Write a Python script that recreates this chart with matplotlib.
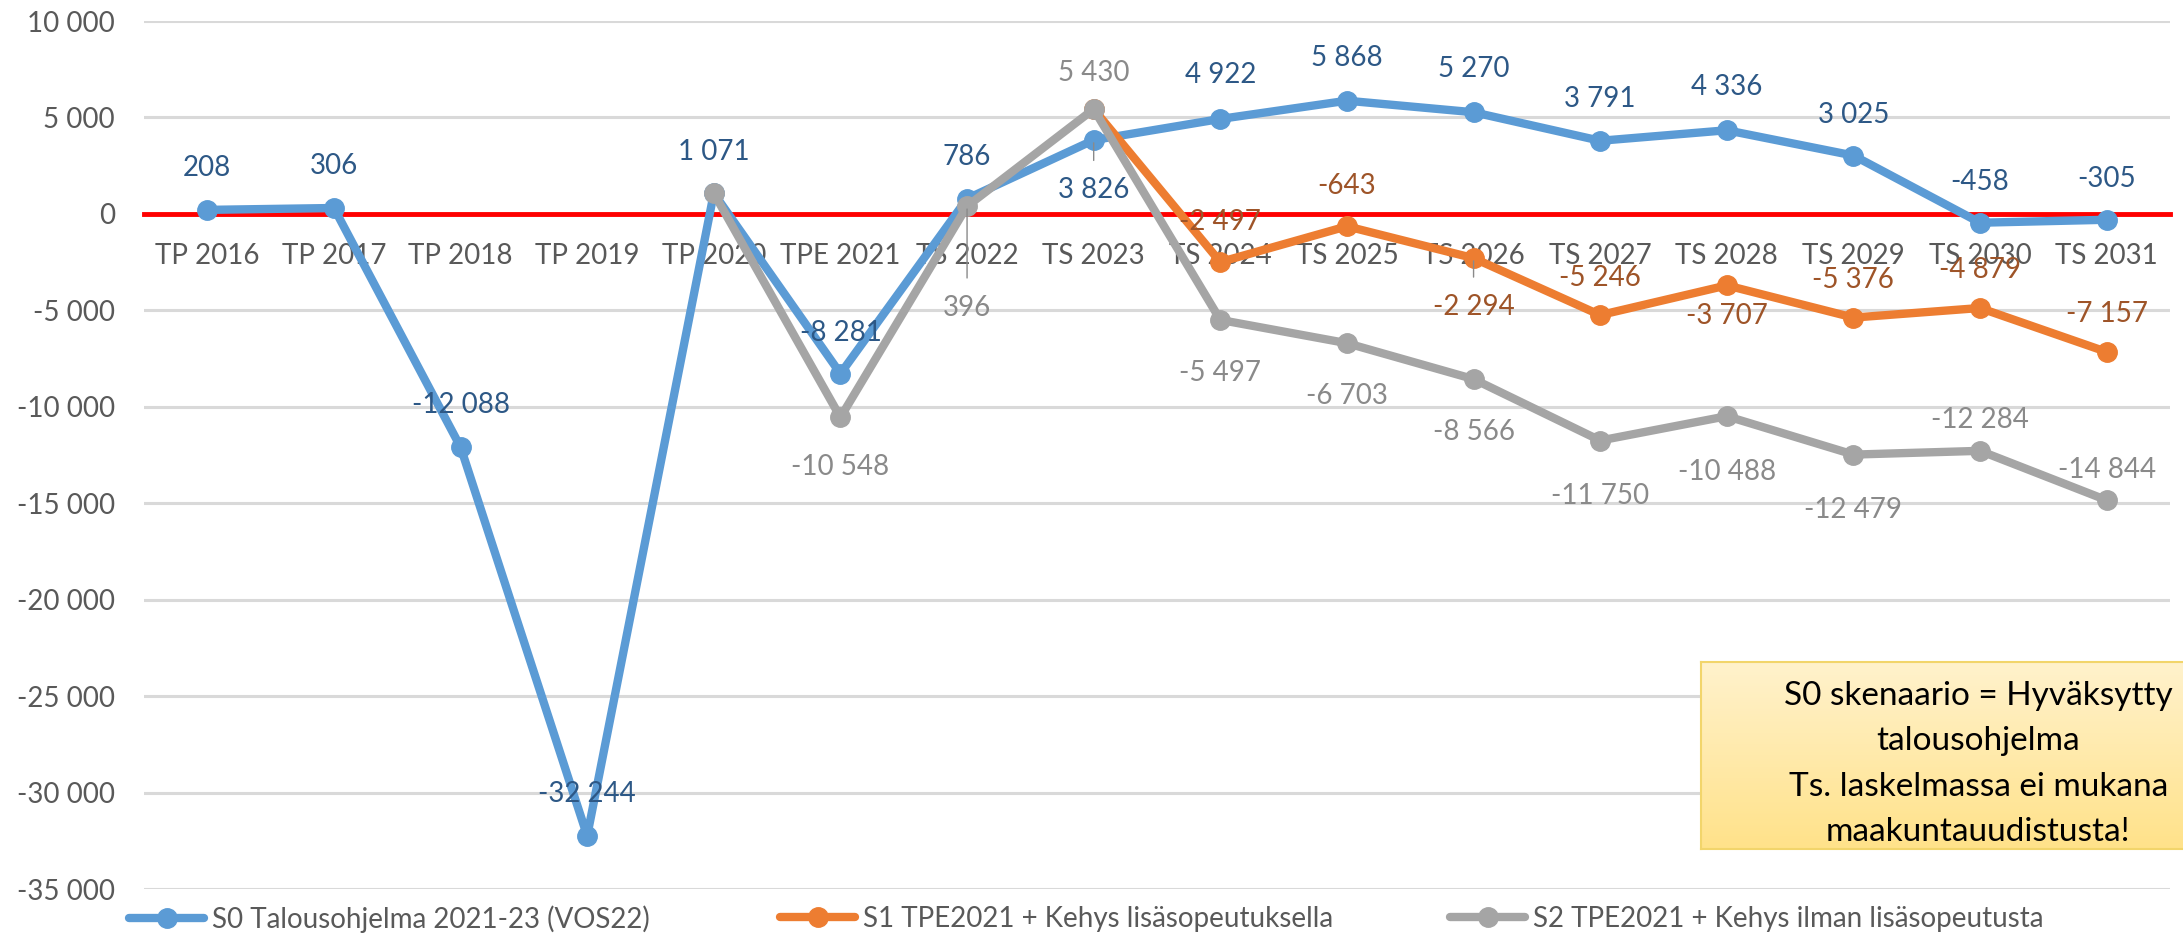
import numpy as np
import matplotlib.pyplot as plt
from matplotlib.ticker import FuncFormatter, MultipleLocator
from matplotlib.colors import LinearSegmentedColormap

plt.rcParams['font.family'] = ['Lato', 'DejaVu Sans']

years = ['TP 2016', 'TP 2017', 'TP 2018', 'TP 2019', 'TP 2020', 'TPE 2021', 'TS 2022', 'TS 2023',
         'TS 2024', 'TS 2025', 'TS 2026', 'TS 2027', 'TS 2028', 'TS 2029', 'TS 2030', 'TS 2031']
s0 = [208, 306, -12088, -32244, 1071, -8281, 786, 3826, 4922, 5868, 5270, 3791, 4336, 3025, -458, -305]
s1 = [None] * 7 + [5430, -2497, -643, -2294, -5246, -3707, -5376, -4879, -7157]
s2 = [None] * 4 + [1071, -10548, 396, 5430, -5497, -6703, -8566, -11750, -10488, -12479, -12284, -14844]
names = ['S0 Talousohjelma 2021-23 (VOS22)',
         'S1 TPE2021 + Kehys lisäsopeutuksella',
         'S2 TPE2021 + Kehys ilman lisäsopeutusta']
note = 'S0 skenaario = Hyväksytty\ntalousohjelma\nTs. laskelmassa ei mukana\nmaakuntauudistusta!'

# label offsets in points (None = no label), leaders where excel drew a leader line
off0 = [30, 30, 30, 30, 30, 29, 30, -36, 32, 31, 31, 30, 31, 29, 29, 29]
off1 = [None] * 8 + [29, 29, -35, 27, -22, 27, 27, 27]
off2 = [None] * 5 + [-36, -73, 26, -38, -38, -38, -40, -40, -40, 22, 22]
lead0 = [7]
lead1 = [10]
lead2 = [6]

line_cols = ['#5B9BD5', '#ED7D31', '#A5A5A5']
text_cols = ['#2D5886', '#9E5428', '#8A8A8A']
FS = 20

W, H = 2183, 935
fig = plt.figure(figsize=(W / 100, H / 100), dpi=100)
ax = fig.add_axes([144 / W, 1 - 889 / H, (2170 - 144) / W, 868 / H])

x = np.arange(len(years))
series = [np.array(s, dtype=float) for s in (s0, s1, s2)]
offs = [off0, off1, off2]
leads = [lead0, lead1, lead2]

for i in range(3):
    ax.plot(x, series[i], color=line_cols[i], lw=6, marker='o', ms=14,
            solid_capstyle='round', solid_joinstyle='round', zorder=3 + i * 0.1, label=names[i])
    for j in range(len(x)):
        if offs[i][j] is None or np.isnan(series[i][j]):
            continue
        v = series[i][j]
        txt = f'{v:,.0f}'.replace(',', ' ')
        kw = {}
        if j in leads[i]:
            kw['arrowprops'] = dict(arrowstyle='-', color='#8A8A8A', lw=1, shrinkA=10, shrinkB=2)
        ax.annotate(txt, (x[j], v), xytext=(0, offs[i][j]), textcoords='offset points',
                    ha='center', va='center', fontsize=FS, color=text_cols[i], zorder=5, **kw)

ax.set_xlim(-0.5, len(years) - 0.5)
ax.set_ylim(-35000, 10000)
ax.yaxis.set_major_locator(MultipleLocator(5000))
ax.yaxis.set_major_formatter(FuncFormatter(lambda v, p: f'{v:,.0f}'.replace(',', ' ')))
ax.grid(axis='y', color='#D9D9D9', lw=2.2)
ax.set_axisbelow(True)
ax.set_xticks(x)
ax.set_xticklabels(years)
ax.tick_params(axis='x', length=0, pad=21, labelsize=FS, labelcolor='#595959')
ax.tick_params(axis='y', length=0, pad=21, labelsize=FS, labelcolor='#595959')

for s in ['top', 'right', 'left']:
    ax.spines[s].set_visible(False)
ax.spines['bottom'].set_position(('data', 0))
ax.spines['bottom'].set_color('#FF0000')
ax.spines['bottom'].set_linewidth(3.5)

# legend, three entries placed like the excel one
handles = ax.get_lines()
for h, xl in zip(handles, [129, 780, 1450]):
    fig.legend([h], [h.get_label()], loc='center left', bbox_to_anchor=(xl / W, 1 - 919 / H),
               frameon=False, fontsize=FS, handlelength=2.7, handletextpad=0.3,
               borderpad=0, borderaxespad=0, labelcolor='#595959')

# note box
bx = fig.add_axes([1701 / W, 1 - 849 / H, (W - 1701) / W, 187 / H])
grad = np.linspace(0, 1, 100).reshape(-1, 1)
cmap = LinearSegmentedColormap.from_list('yel', ['#FFF2CC', '#FFE28A'])
bx.imshow(grad, aspect='auto', cmap=cmap, extent=[0, 1, 0, 1], origin='upper')
bx.set_xticks([])
bx.set_yticks([])
for s in ['left', 'top', 'bottom']:
    bx.spines[s].set_color('#F2D56B')
    bx.spines[s].set_linewidth(1.5)
bx.spines['right'].set_visible(False)
bx.text(0.575, 0.455, note, ha='center', va='center', multialignment='center',
        fontsize=24, linespacing=1.65, color='black', transform=bx.transAxes)

fig.savefig('out.png', dpi=100)
